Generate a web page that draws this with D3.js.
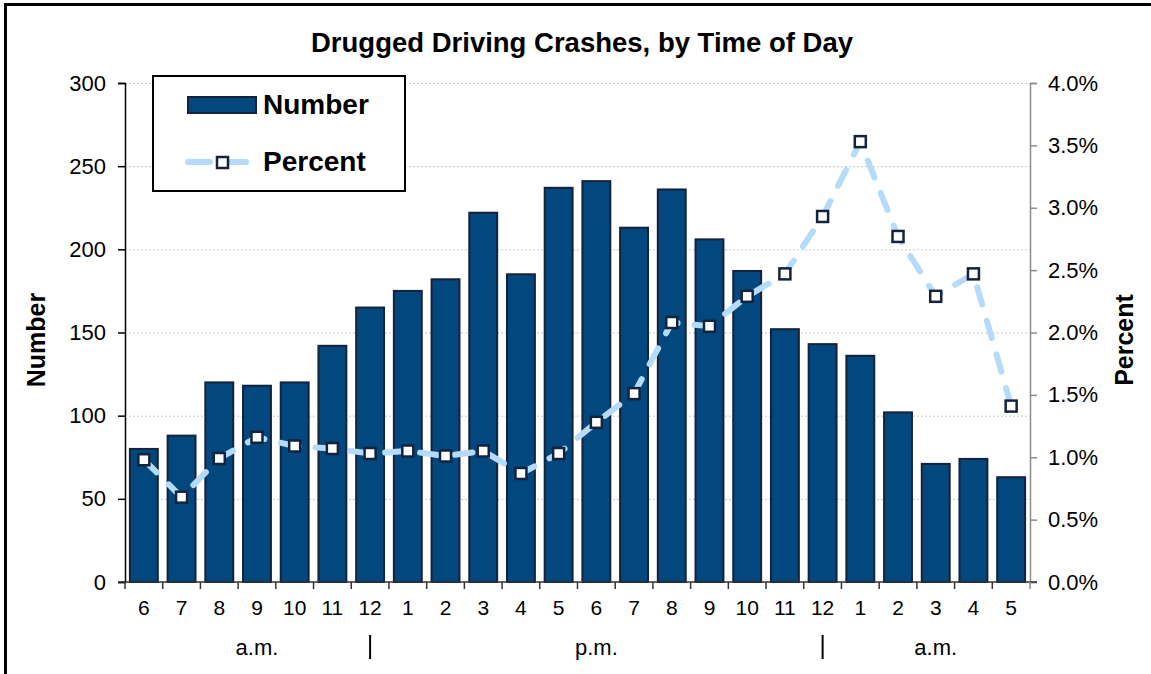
<!DOCTYPE html>
<html>
<head>
<meta charset="utf-8">
<script src="https://cdn.jsdelivr.net/npm/d3@7"></script>
<style>
  body { margin: 0; background: #fff; }
  svg { font-family: "Liberation Sans", Arial, sans-serif; }
  .grid line { stroke: #c8c8c8; stroke-dasharray: 2,2; }
</style>
</head>
<body>
<div class="drawingboard"></div>
<script>
// hour labels, 6 a.m. through 5 a.m.
var hours = ["6","7","8","9","10","11","12","1","2","3","4","5","6","7","8","9","10","11","12","1","2","3","4","5"];
var crashCounts = [80, 88, 120, 118, 120, 142, 165, 175, 182, 222, 185, 237, 241, 213, 236, 206, 187, 152, 143, 136, 102, 71, 74, 63];
var crashPercent = [0.98, 0.68, 0.99, 1.16, 1.09, 1.07, 1.03, 1.05, 1.01, 1.05, 0.87, 1.03, 1.28, 1.51, 2.08, 2.05, 2.29, 2.47, 2.93, 3.53, 2.77, 2.29, 2.47, 1.41];
var leftTicks = [0, 50, 100, 150, 200, 250, 300];
var rightTicks = [0, 0.5, 1.0, 1.5, 2.0, 2.5, 3.0, 3.5, 4.0];
// period labels sit under the hour at that index, dividers under noon and midnight
var periodLabels = ["a.m.", "p.m.", "a.m."];
var periodAt = [3, 12, 21];
var dividerAt = [6, 18];

var width = 1151, height = 674;
var plotLeft = 125, plotRight = 1030, plotTop = 83, plotBottom = 582;

var svg = d3.select(".drawingboard")
    .append("svg")
    .attr("width", width)
    .attr("height", height);

// outer frame, only the top and left edges are inside the picture
svg.append("rect")
    .attr("x", 5.5).attr("y", 4.5)
    .attr("width", 1200).attr("height", 700)
    .style("fill", "none").style("stroke", "#000").style("stroke-width", 3);

var idx = d3.range(hours.length);
var x = d3.scaleBand()
    .domain(idx)
    .range([plotLeft, plotRight])
    .paddingInner(0.26)
    .paddingOuter(0.13);

var y = d3.scaleLinear().domain([0, 300]).range([plotBottom, plotTop]);
var y2 = d3.scaleLinear().domain([0, 4]).range([plotBottom, plotTop]);

// gridlines
svg.append("g").attr("class", "grid")
    .selectAll("line")
    .data(leftTicks.filter(function (d) { return d > 0; }))
    .enter().append("line")
    .attr("x1", plotLeft).attr("x2", plotRight)
    .attr("y1", function (d) { return y(d) + 0.5; })
    .attr("y2", function (d) { return y(d) + 0.5; });

// bars
svg.append("g")
    .selectAll("rect")
    .data(crashCounts)
    .enter().append("rect")
    .attr("x", function (d, i) { return x(i); })
    .attr("y", function (d) { return y(d); })
    .attr("width", x.bandwidth())
    .attr("height", function (d) { return y(0) - y(d); })
    .style("fill", "#03477f")
    .style("stroke", "#14233b")
    .style("stroke-width", 2);

// left axis
var yAxis = svg.append("g")
    .attr("transform", "translate(" + plotLeft + ",0)")
    .call(d3.axisLeft(y).tickValues(leftTicks).tickSize(7).tickPadding(12));
yAxis.select(".domain").style("stroke", "#000").style("stroke-width", 1.5);
yAxis.selectAll("line").style("stroke", "#000").style("stroke-width", 1.5);
yAxis.selectAll("text").style("font-size", "22px").style("fill", "#000");

// right axis
var y2Axis = svg.append("g")
    .attr("transform", "translate(" + plotRight + ",0)")
    .call(d3.axisRight(y2).tickValues(rightTicks).tickSize(7).tickPadding(11)
        .tickFormat(function (d) { return d3.format(".1f")(d) + "%"; }));
y2Axis.select(".domain").style("stroke", "#8c8c8c").style("stroke-width", 1.5);
y2Axis.selectAll("line").style("stroke", "#8c8c8c").style("stroke-width", 1.5);
y2Axis.selectAll("text").style("font-size", "22px").style("fill", "#000");

// bottom axis: ticks at band boundaries, labels centred
var xb = svg.append("g").attr("transform", "translate(0," + plotBottom + ")");
xb.append("line")
    .attr("x1", plotLeft - 7).attr("x2", plotRight + 7)
    .style("stroke", "#333").style("stroke-width", 1.5);
xb.selectAll(".tick")
    .data(d3.range(hours.length + 1))
    .enter().append("line")
    .attr("x1", function (i) { return plotLeft + i * x.step(); })
    .attr("x2", function (i) { return plotLeft + i * x.step(); })
    .attr("y1", 0).attr("y2", 7)
    .style("stroke", function (i) { return i === hours.length ? "#8c8c8c" : "#333"; })
    .style("stroke-width", 1.5);
xb.selectAll("text")
    .data(hours)
    .enter().append("text")
    .attr("x", function (d, i) { return x(i) + x.bandwidth() / 2; })
    .attr("y", 33)
    .style("text-anchor", "middle")
    .style("font-size", "21px")
    .text(function (d) { return d; });

// period labels
svg.selectAll(".period")
    .data(periodLabels)
    .enter().append("text")
    .attr("class", "period")
    .attr("x", function (d, i) { return x(periodAt[i]) + x.bandwidth() / 2; })
    .attr("y", 655)
    .style("text-anchor", "middle")
    .style("font-size", "22px")
    .text(function (d) { return d; });
svg.selectAll(".divider")
    .data(dividerAt)
    .enter().append("line")
    .attr("x1", function (d) { return x(d) + x.bandwidth() / 2; })
    .attr("x2", function (d) { return x(d) + x.bandwidth() / 2; })
    .attr("y1", 635).attr("y2", 659)
    .style("stroke", "#000").style("stroke-width", 2);

// percent line
var line = d3.line()
    .x(function (d, i) { return x(i) + x.bandwidth() / 2; })
    .y(function (d) { return y2(d); });
svg.append("path")
    .datum(crashPercent)
    .attr("d", line)
    .style("fill", "none")
    .style("stroke", "#b4dcfa")
    .style("stroke-width", 6)
    .style("stroke-linecap", "round")
    .style("stroke-dasharray", "18,17");

svg.append("g")
    .selectAll("rect")
    .data(crashPercent)
    .enter().append("rect")
    .attr("x", function (d, i) { return x(i) + x.bandwidth() / 2 - 5.5; })
    .attr("y", function (d) { return y2(d) - 5.5; })
    .attr("width", 11).attr("height", 11)
    .style("fill", "#fff")
    .style("stroke", "#14233b")
    .style("stroke-width", 2.5);

// title
svg.append("text")
    .attr("x", 582).attr("y", 52)
    .style("text-anchor", "middle")
    .style("font-size", "27.5px")
    .style("font-weight", "bold")
    .text("Drugged Driving Crashes, by Time of Day");

// axis titles
svg.append("text")
    .attr("transform", "translate(45,340) rotate(-90)")
    .style("text-anchor", "middle")
    .style("font-size", "25px")
    .style("font-weight", "bold")
    .text("Number");
svg.append("text")
    .attr("transform", "translate(1133,340) rotate(-90)")
    .style("text-anchor", "middle")
    .style("font-size", "25px")
    .style("font-weight", "bold")
    .text("Percent");

// legend
var legend = svg.append("g");
legend.append("rect")
    .attr("x", 153).attr("y", 76)
    .attr("width", 252).attr("height", 115)
    .style("fill", "#fff").style("stroke", "#000").style("stroke-width", 2);
legend.append("rect")
    .attr("x", 188).attr("y", 97)
    .attr("width", 68).attr("height", 16)
    .style("fill", "#03477f").style("stroke", "#14233b").style("stroke-width", 2);
legend.append("text")
    .attr("x", 263).attr("y", 114)
    .style("font-size", "28px").style("font-weight", "bold")
    .text("Number");
legend.append("line")
    .attr("x1", 188).attr("x2", 256)
    .attr("y1", 162).attr("y2", 162)
    .style("stroke", "#b4dcfa").style("stroke-width", 6)
    .style("stroke-linecap", "round")
    .style("stroke-dasharray", "22,14");
legend.append("rect")
    .attr("x", 217).attr("y", 157)
    .attr("width", 11).attr("height", 11)
    .style("fill", "#fff").style("stroke", "#14233b").style("stroke-width", 2.5);
legend.append("text")
    .attr("x", 263).attr("y", 171)
    .style("font-size", "28px").style("font-weight", "bold")
    .text("Percent");
</script>
</body>
</html>
